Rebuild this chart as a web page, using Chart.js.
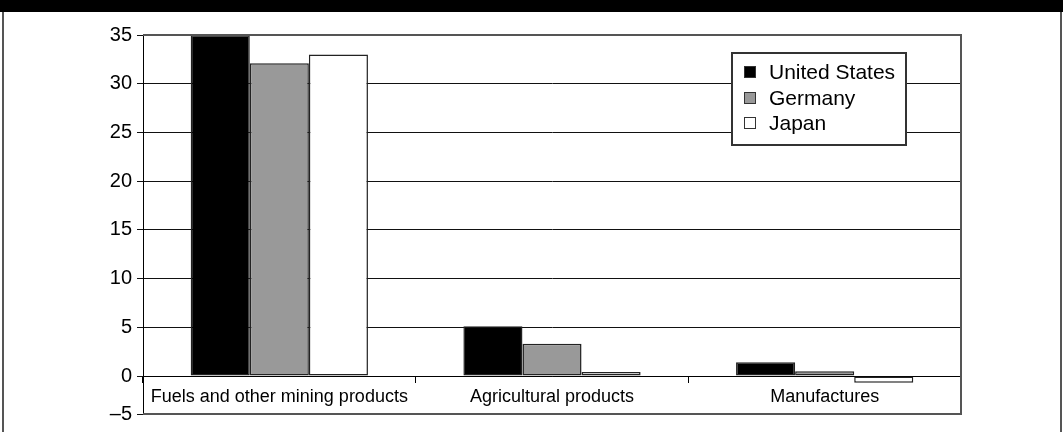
<!DOCTYPE html>
<html>
<head>
<meta charset="utf-8">
<script src="https://cdn.jsdelivr.net/npm/chart.js@4.4.1/dist/chart.umd.min.js"></script>
<style>
  html, body { margin: 0; padding: 0; background: #fff; }
  #wrap { position: relative; width: 1063px; height: 432px; overflow: hidden; }
  #topbar { position: absolute; left: 0; top: 0; width: 1063px; height: 12px; background: #000; }
  #frame { position: absolute; left: 2px; top: 12px; width: 1060px; height: 420px; box-sizing: border-box;
           border-left: 2px solid #555; border-right: 2px solid #555; }
  canvas { position: absolute; left: 0; top: 0; }
</style>
</head>
<body>
<div id="wrap">
  <div id="topbar"></div>
  <div id="frame"></div>
  <canvas id="chart" width="1063" height="432"></canvas>
</div>
<script>
// categories and series
const categories = ['Fuels and other mining products', 'Agricultural products', 'Manufactures'];
const unitedStates = [35, 5.1, 1.4];
const germany = [32.1, 3.3, 0.5];
const japan = [33, 0.4, -0.7];
const seriesNames = ['United States', 'Germany', 'Japan'];
const seriesColors = ['#000000', '#999999', '#ffffff'];

// y axis: the bottom of the axis sits a bit above -5 in the original, but is labelled -5
const yTickValues = [-3.9, 0, 5, 10, 15, 20, 25, 30, 35];
const yTickLabels = ['\u20135', '0', '5', '10', '15', '20', '25', '30', '35'];

Chart.defaults.font.family = "'Liberation Sans', Arial, sans-serif";
Chart.defaults.color = '#000';

//draws the grey box round the plot and the boxed legend
const frameAndLegend = {
  id: 'frameAndLegend',
  afterDraw(chart) {
    const ctx = chart.ctx;
    const a = chart.chartArea;
    ctx.save();
    ctx.strokeStyle = '#555';
    ctx.lineWidth = 2;
    ctx.beginPath();
    ctx.moveTo(a.left, a.top);
    ctx.lineTo(a.right, a.top);
    ctx.lineTo(a.right, a.bottom);
    ctx.lineTo(a.left, a.bottom);
    ctx.stroke();

    // legend
    const bx = a.right - 229, by = a.top + 18, bw = 174, bh = 92;
    ctx.fillStyle = '#fff';
    ctx.fillRect(bx, by, bw, bh);
    ctx.strokeStyle = '#333';
    ctx.lineWidth = 2;
    ctx.strokeRect(bx, by, bw, bh);
    const rows = [19, 45, 70];
    ctx.font = "21px 'Liberation Sans', Arial, sans-serif";
    ctx.textBaseline = 'middle';
    chart.data.datasets.forEach((ds, i) => {
      const cy = by + rows[i];
      ctx.fillStyle = ds.backgroundColor;
      ctx.fillRect(bx + 12, cy - 6, 12, 12);
      ctx.strokeStyle = '#333';
      ctx.lineWidth = 1;
      ctx.strokeRect(bx + 12.5, cy - 5.5, 11, 11);
      ctx.fillStyle = '#000';
      ctx.fillText(ds.label, bx + 37, cy + 1);
    });
    ctx.restore();
  }
};

const seriesData = [unitedStates, germany, japan];

new Chart(document.getElementById('chart'), {
  type: 'bar',
  plugins: [frameAndLegend],
  data: {
    labels: categories,
    datasets: seriesNames.map((name, i) => ({
      label: name,
      data: seriesData[i],
      backgroundColor: seriesColors[i],
      borderColor: '#222',
      borderWidth: 1.5,
      borderSkipped: false,
      barPercentage: 1,
      categoryPercentage: 0.65
    }))
  },
  options: {
    responsive: false,
    animation: false,
    layout: { padding: { left: 0, top: 35, right: 102, bottom: 18 } },
    plugins: {
      legend: { display: false },
      tooltip: { enabled: false },
      title: { display: false }
    },
    scales: {
      x: {
        type: 'category',
        position: { y: 0 },
        offset: true,
        grid: { display: true, drawOnChartArea: false, drawTicks: true, tickLength: 6, color: '#000', offset: true },
        border: { display: true, color: '#000', width: 1 },
        ticks: { font: { size: 18 }, color: '#000', padding: 4, maxRotation: 0 }
      },
      y: {
        min: -3.9,
        max: 35,
        afterBuildTicks: (scale) => { scale.ticks = yTickValues.map(v => ({ value: v })); },
        afterFit: (scale) => { scale.width = 143; },
        grid: { color: '#111', lineWidth: 1, drawTicks: true, tickLength: 6 },
        border: { display: true, color: '#000', width: 1 },
        ticks: {
          font: { size: 20 },
          color: '#000',
          padding: 5,
          callback: (v, i) => yTickLabels[i]
        }
      }
    }
  }
});
</script>
</body>
</html>
